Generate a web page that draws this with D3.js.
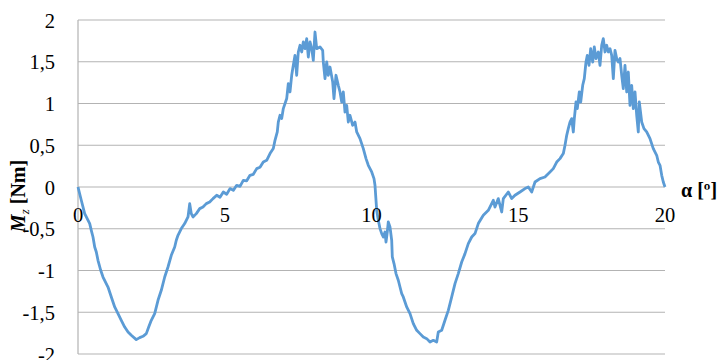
<!DOCTYPE html>
<html>
<head>
<meta charset="utf-8">
<script src="https://cdn.jsdelivr.net/npm/d3@7"></script>
<style>
  html, body { margin: 0; padding: 0; background: #fff; }
  svg { display: block; }
  .tick-label { font-family: "Liberation Serif", "DejaVu Serif", "Times New Roman", serif; font-size: 20.5px; fill: #000; }
  .axis-title { font-family: "Liberation Serif", "DejaVu Serif", "Times New Roman", serif; font-size: 20px; font-weight: bold; fill: #000; }
</style>
</head>
<body>
<svg id="chart" width="718" height="360"></svg>
<script>
// Rotation angle α [º]
const alpha = [
  0, 0.112, 0.228, 0.399, 0.453, 0.511, 0.569, 0.624, 0.681, 0.773, 0.852, 1.022, 1.135, 1.250, 1.363,
  1.475, 1.591, 1.704, 1.816, 1.986, 2.102, 2.215, 2.327, 2.409, 2.497, 2.613, 2.726, 2.838, 2.954, 3.066,
  3.179, 3.295, 3.349, 3.407, 3.520, 3.635, 3.748, 3.806, 3.860, 3.918, 4.031, 4.147, 4.259, 4.371, 4.487,
  4.600, 4.726, 4.838, 4.951, 5.066, 5.179, 5.291, 5.407, 5.520, 5.632, 5.748, 5.860, 5.973, 6.089, 6.201,
  6.313, 6.429, 6.542, 6.654, 6.712, 6.790, 6.824, 6.882, 6.940, 6.995, 7.111, 7.165, 7.223, 7.281, 7.336,
  7.394, 7.451, 7.506, 7.564, 7.622, 7.676, 7.734, 7.792, 7.847, 7.905, 7.962, 8.017, 8.075, 8.133, 8.245,
  8.337, 8.358, 8.416, 8.474, 8.528, 8.586, 8.678, 8.722, 8.790, 8.869, 8.927, 8.985, 9.039, 9.097, 9.155,
  9.210, 9.267, 9.359, 9.438, 9.496, 9.608, 9.721, 9.813, 9.891, 10.007, 10.085, 10.119, 10.177, 10.232, 10.290,
  10.348, 10.402, 10.460, 10.494, 10.538, 10.572, 10.630, 10.688, 10.709, 10.767, 10.835, 10.913, 10.971, 11.029, 11.083,
  11.199, 11.312, 11.424, 11.540, 11.652, 11.765, 11.881, 11.993, 12.106, 12.221, 12.276, 12.392, 12.504, 12.617, 12.733,
  12.845, 12.957, 13.073, 13.186, 13.298, 13.414, 13.526, 13.639, 13.809, 13.980, 14.150, 14.208, 14.320, 14.436, 14.491,
  14.661, 14.777, 14.889, 15.060, 15.230, 15.343, 15.458, 15.571, 15.741, 15.911, 16.082, 16.194, 16.310, 16.422, 16.535,
  16.593, 16.651, 16.705, 16.763, 16.821, 16.876, 16.910, 16.968, 17.012, 17.080, 17.128, 17.196, 17.250, 17.308, 17.353,
  17.411, 17.468, 17.537, 17.591, 17.649, 17.727, 17.785, 17.843, 17.898, 17.956, 18.014, 18.068, 18.126, 18.184, 18.239,
  18.296, 18.354, 18.409, 18.467, 18.525, 18.579, 18.637, 18.695, 18.750, 18.807, 18.865, 18.920, 18.978, 19.036, 19.090,
  19.124, 19.206, 19.284, 19.376, 19.489, 19.601, 19.717, 19.772, 19.830, 19.888, 19.942, 20.0
];

// Torque M_z [Nm]
const mz = [
  0, -0.159, -0.319, -0.438, -0.519, -0.599, -0.719, -0.778, -0.878, -0.997, -1.078, -1.198, -1.317, -1.437, -1.516,
  -1.596, -1.677, -1.737, -1.776, -1.828, -1.804, -1.788, -1.756, -1.677, -1.596, -1.516, -1.357, -1.237, -1.078, -0.958,
  -0.818, -0.719, -0.638, -0.578, -0.498, -0.438, -0.359, -0.199, -0.319, -0.359, -0.319, -0.259, -0.240, -0.199, -0.180,
  -0.139, -0.099, -0.123, -0.060, -0.087, -0.019, -0.040, 0.020, 0.008, 0.080, 0.074, 0.140, 0.152, 0.220, 0.236,
  0.299, 0.320, 0.400, 0.460, 0.559, 0.659, 0.778, 0.859, 0.819, 0.939, 1.059, 1.238, 1.138, 1.338, 1.457,
  1.577, 1.338, 1.617, 1.697, 1.617, 1.737, 1.657, 1.777, 1.557, 1.737, 1.657, 1.517, 1.856, 1.657, 1.677,
  1.637, 1.497, 1.298, 1.497, 1.338, 1.437, 1.257, 1.059, 1.338, 1.218, 1.138, 1.018, 1.138, 0.898, 0.978,
  0.778, 0.859, 0.739, 0.778, 0.659, 0.580, 0.460, 0.340, 0.260, 0.180, 0.100, 0.020, -0.279, -0.399, -0.498,
  -0.558, -0.599, -0.539, -0.659, -0.539, -0.419, -0.479, -0.638, -0.838, -0.917, -1.037, -1.117, -1.198, -1.277, -1.317,
  -1.437, -1.516, -1.636, -1.716, -1.756, -1.796, -1.816, -1.856, -1.836, -1.856, -1.737, -1.716, -1.596, -1.477, -1.317,
  -1.157, -1.037, -0.898, -0.798, -0.678, -0.599, -0.558, -0.438, -0.339, -0.279, -0.159, -0.240, -0.139, -0.299, -0.139,
  -0.060, -0.139, -0.099, -0.060, -0.019, 0.000, -0.060, 0.060, 0.101, 0.120, 0.180, 0.220, 0.299, 0.340, 0.400,
  0.499, 0.619, 0.699, 0.778, 0.819, 0.659, 0.819, 1.018, 0.939, 1.138, 1.018, 1.218, 1.298, 1.497, 1.577,
  1.457, 1.657, 1.497, 1.677, 1.538, 1.617, 1.457, 1.697, 1.777, 1.617, 1.697, 1.617, 1.657, 1.577, 1.298,
  1.637, 1.538, 1.497, 1.538, 1.338, 1.178, 1.457, 1.138, 1.377, 0.978, 1.218, 0.939, 1.138, 0.859, 0.659,
  1.018, 0.778, 0.699, 0.659, 0.580, 0.460, 0.380, 0.299, 0.260, 0.140, 0.060, 0.0
];

const xTicks = [0, 5, 10, 15, 20];
const yTicks = [-2, -1.5, -1, -0.5, 0, 0.5, 1, 1.5, 2];

const svg = d3.select("#chart");
const margin = { left: 78, right: 53, top: 20, bottom: 6 };
const W = 718, H = 360;

const x = d3.scaleLinear().domain([0, 20]).range([margin.left, W - margin.right]);
const y = d3.scaleLinear().domain([-2, 2]).range([H - margin.bottom, margin.top]);

const fmt = v => String(v).replace(".", ",");

// Horizontal gridlines
svg.append("g")
  .selectAll("line")
  .data(yTicks)
  .join("line")
  .attr("x1", x(0)).attr("x2", x(20))
  .attr("y1", d => y(d)).attr("y2", d => y(d))
  .attr("stroke", "#b3b3b3")
  .attr("stroke-width", 1.2);

// Vertical axis line
svg.append("line")
  .attr("x1", x(0)).attr("x2", x(0))
  .attr("y1", y(2)).attr("y2", y(-2))
  .attr("stroke", "#b3b3b3")
  .attr("stroke-width", 1.2);

// Data line
const line = d3.line()
  .x((d, i) => x(alpha[i]))
  .y(d => y(d));

svg.append("path")
  .datum(mz)
  .attr("d", line)
  .attr("fill", "none")
  .attr("stroke", "#5b9bd5")
  .attr("stroke-width", 2.8)
  .attr("stroke-linejoin", "round");

// Y tick labels
svg.append("g")
  .selectAll("text")
  .data(yTicks)
  .join("text")
  .attr("class", "tick-label")
  .attr("x", 55)
  .attr("y", d => y(d) + 7.5)
  .attr("text-anchor", "end")
  .text(d => fmt(d));

// X tick labels, placed below the zero line
svg.append("g")
  .selectAll("text")
  .data(xTicks)
  .join("text")
  .attr("class", "tick-label")
  .attr("x", d => x(d))
  .attr("y", y(0) + 35)
  .attr("text-anchor", "middle")
  .text(d => fmt(d));

// Y axis title: M_z [Nm]
const yt = svg.append("text")
  .attr("class", "axis-title")
  .attr("transform", "translate(25,196) rotate(-90)")
  .attr("text-anchor", "middle");
yt.append("tspan").attr("font-style", "italic").text("M");
yt.append("tspan").attr("font-style", "italic").attr("font-weight", "normal")
  .attr("font-size", "13px").attr("dy", 4).text("z");
yt.append("tspan").attr("dy", -4).text(" [Nm]");

// X axis title
svg.append("text")
  .attr("class", "axis-title")
  .attr("x", 681)
  .attr("y", 197)
  .text("α [º]");
</script>
</body>
</html>
